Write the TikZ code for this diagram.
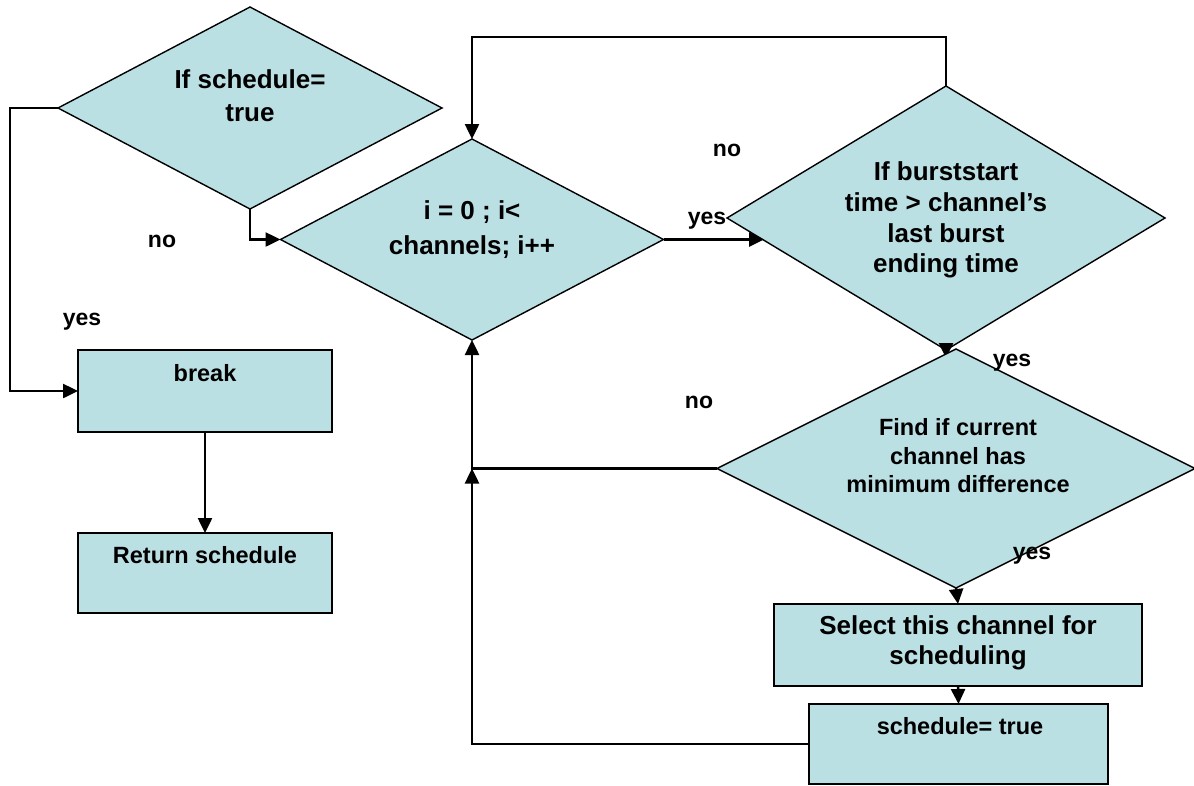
\documentclass[tikz,border=0pt]{standalone}
\usepackage{fontspec}
\setmainfont{Liberation Sans}
\usetikzlibrary{shapes.geometric,arrows.meta,calc}
\definecolor{boxfill}{RGB}{187,224,227}

\begin{document}
\begin{tikzpicture}[x=1pt,y=-1pt,
  decision/.style={diamond, draw=black, line width=1.4pt, fill=boxfill,
    inner sep=0pt, outer sep=0pt},
  process/.style={rectangle, draw=black, line width=1.8pt, fill=boxfill,
    inner sep=0pt, outer sep=0pt},
  bigtxt/.style={font=\bfseries\fontsize{26}{#1}\selectfont, align=center, inner sep=0pt},
  smalltxt/.style={font=\bfseries\fontsize{23.5}{#1}\selectfont, align=center, inner sep=0pt},
  tag/.style={font=\bfseries\fontsize{23}{27}\selectfont, inner sep=0pt},
  arr/.style={line width=2.5pt, -{Triangle[length=15pt,width=14pt]}},
  conn/.style={line width=2.5pt}
]
\useasboundingbox (0,0) rectangle (1194,785);

% decisions
\node[decision, minimum width=384pt, minimum height=202pt] (d1) at (250,108) {};
\node[decision, minimum width=383pt, minimum height=201pt] (d2) at (472,239.5) {};
\node[decision, minimum width=438pt, minimum height=264pt] (d3) at (946,218) {};

% processes
\node[process, minimum width=254pt, minimum height=82pt] (brk) at (205,391) {};
\node[process, minimum width=254pt, minimum height=80pt] (ret) at (205,573) {};
\node[process, minimum width=368pt, minimum height=82pt] (sel) at (958,645) {};
\node[process, minimum width=299pt, minimum height=80pt] (sch) at (958.5,744) {};

% connectors
\draw[arr] (d1.west) -- (10,108) |- (brk.west);
\draw[arr] (d1.south) |- (d2.west);
\draw[arr] (brk.south) -- (ret.north);
\draw[arr] (d2.east) -- (d2.east -| d3.187);
\draw[arr] (d3.north) -- ++(0,-49) -| (d2.north);
\draw[arr] (d3.south) -- ++(0,8);

\node[decision, minimum width=478pt, minimum height=239pt] (d4) at (956,468.5) {};

\draw[arr] (d4.west) -| (d2.south);
\draw[arr] (sch.west) -| (d4.west -| d2.south);
\draw[arr] (d4.south) -- (sel.north);
\draw[arr] (sel.south) -- (sch.north);

% texts
\node[bigtxt=33] (d1t) at (250,96) {If schedule=\\true};
\node[bigtxt=35] (d2t) at (472,230) {i = 0 ; i<\\channels; i++};
\node[bigtxt=30.7] (d3t) at (946,220) {If burststart\\time > channel’s\\last burst\\ending time};
\node[smalltxt=28.5] (d4t) at (958,456) {Find if current\\channel has\\minimum difference};
\node[bigtxt=30] (selt) at (958,643) {Select this channel for\\scheduling};
\node[smalltxt=28] (scht) at (960,726) {schedule= true};
\node[smalltxt=28] (brkt) at (205,373) {break};
\node[smalltxt=28] (rett) at (205,555) {Return schedule};

% branch labels
\node[tag] (n1) at (162,241) {no};
\node[tag] (y1) at (82,322) {yes};
\node[tag] (n2) at (727,150) {no};
\node[tag] (y2) at (707,221) {yes};
\node[tag] (y3) at (1012,363) {yes};
\node[tag] (n3) at (699,402) {no};
\node[tag] (y4) at (1032,556) {yes};
\end{tikzpicture}
\end{document}
